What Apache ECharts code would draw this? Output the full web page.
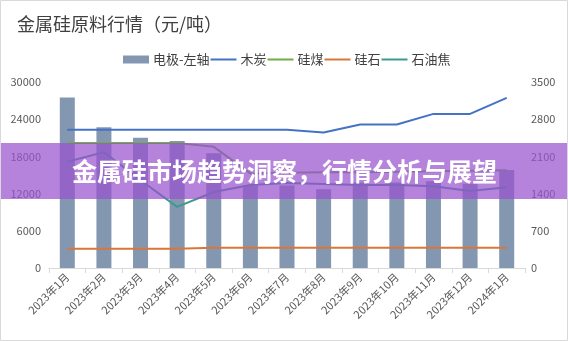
<!DOCTYPE html>
<html>
<head>
<meta charset="utf-8">
<script src="https://cdn.jsdelivr.net/npm/echarts@6/dist/echarts.min.js"></script>
<style>
html,body{margin:0;padding:0;background:#fff;}
#c{width:568px;height:341px;}
</style>
</head>
<body>
<div id="c"></div>
<script>
const months = ['2023年1月','2023年2月','2023年3月','2023年4月','2023年5月','2023年6月','2023年7月','2023年8月','2023年9月','2023年10月','2023年11月','2023年12月','2024年1月'];
const electrode = [27500, 22700, 21000, 20500, 18500, 13300, 13300, 12700, 13800, 13800, 14000, 13600, 15800];
const charcoal = [2600, 2600, 2600, 2600, 2600, 2600, 2600, 2550, 2700, 2700, 2900, 2900, 3200];
const siliconCoal = [2350, 2350, 2350, 2350, 2280, 1780, 1790, 1800, 1800, 1810, 1820, 1830, 1840];
const silica = [360, 360, 360, 360, 380, 380, 380, 380, 380, 380, 380, 380, 380];
const petCoke = [2000, 2180, 1650, 1150, 1430, 1560, 1600, 1580, 1560, 1560, 1540, 1450, 1520];
const leftTicks = {min: 0, max: 30000, interval: 6000};
const rightTicks = {min: 0, max: 3500, interval: 700};

const FONT = '"Noto Sans CJK SC", "Noto Sans", sans-serif';
const LINE_ICON = 'path://M0,0L26,0L26,0Z M0,3L26,3L26,5L0,5Z M0,8L26,8L26,8Z';
const chart = echarts.init(document.getElementById('c'), null, {renderer: 'canvas'});
const lineSeries = (name, data, color) => ({
  name, type: 'line', yAxisIndex: 1, data, symbol: 'none', z: 3,
  lineStyle: {color, width: 2}, itemStyle: {color}
});
chart.setOption({
  animation: false,
  textStyle: {fontFamily: FONT},
  title: {
    text: '金属硅原料行情（元/吨）', left: 12, top: 10,
    textStyle: {fontFamily: FONT, fontSize: 18, fontWeight: 'normal', color: '#404040'}
  },
  legend: {
    left: 118, top: 48, itemWidth: 26, itemHeight: 8, itemGap: 1,
    textStyle: {fontFamily: FONT, fontSize: 13, color: '#404040', padding: [0, 0, 0, -1]},
    data: [
      {name: '电极-左轴', icon: 'rect'},
      {name: '木炭', icon: LINE_ICON}, {name: '硅煤', icon: LINE_ICON},
      {name: '硅石', icon: LINE_ICON}, {name: '石油焦', icon: LINE_ICON}
    ]
  },
  grid: {left: 49, right: 43, top: 82, bottom: 73},
  xAxis: {
    type: 'category', data: months, boundaryGap: true,
    axisLine: {lineStyle: {color: '#d9d9d9'}},
    axisTick: {show: true, length: 5, lineStyle: {color: '#d9d9d9'}},
    axisLabel: {rotate: 45, interval: 0, fontSize: 11, color: '#595959', margin: 7, fontFamily: FONT}
  },
  yAxis: [
    {type: 'value', min: leftTicks.min, max: leftTicks.max, interval: leftTicks.interval,
     splitLine: {show: false}, axisLine: {show: false}, axisTick: {show: false},
     axisLabel: {fontSize: 11, color: '#595959', margin: 8, fontFamily: FONT, formatter: v => String(v)}},
    {type: 'value', min: rightTicks.min, max: rightTicks.max, interval: rightTicks.interval,
     splitLine: {show: false}, axisLine: {show: false}, axisTick: {show: false},
     axisLabel: {fontSize: 11, color: '#595959', margin: 6, fontFamily: FONT, formatter: v => String(v)}}
  ],
  series: [
    {name: '电极-左轴', type: 'bar', data: electrode, barWidth: 15, itemStyle: {color: '#8497b0'}, z: 2},
    lineSeries('木炭', charcoal, '#4472c4'),
    lineSeries('硅煤', siliconCoal, '#70ad47'),
    lineSeries('硅石', silica, '#d9773a'),
    lineSeries('石油焦', petCoke, '#3e9a8e')
  ],
  graphic: [
    {type: 'rect', z: 100, shape: {x: 0, y: 143, width: 568, height: 56},
     style: {fill: 'rgba(152,82,206,0.72)'}},
    {type: 'text', z: 101, x: 72, y: 171,
     style: {text: '金属硅市场趋势洞察，行情分析与展望', fill: '#ffffff',
       font: 'bold 25px "Noto Sans CJK SC", sans-serif', verticalAlign: 'middle', align: 'left'}},
    {type: 'rect', z: 102, shape: {x: 0.5, y: 0.5, width: 567, height: 340},
     style: {fill: 'none', stroke: '#d9d9d9', lineWidth: 1}}
  ]
});
</script>
</body>
</html>
